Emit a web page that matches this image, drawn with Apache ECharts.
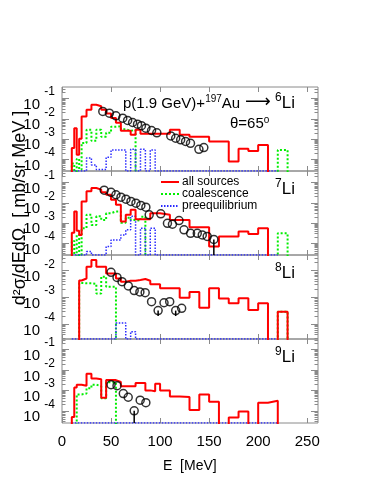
<!DOCTYPE html>
<html><head><meta charset="utf-8">
<script src="https://cdn.jsdelivr.net/npm/echarts@6/dist/echarts.min.js"></script>
<style>html,body{margin:0;padding:0;background:#fff}#c{width:382px;height:494px}</style>
</head><body><div id="c"></div><script>
// ---------- data ----------
const xTicks = [0, 50, 100, 150, 200, 250];
const yMajorTicks = [1e-1, 1e-2, 1e-3, 1e-4];
const panelNames = ['6', '7', '8', '9'];
// histogram bin edges (MeV)
const energyEdges = [10,12.5,15,17.5,20,25,30,35,40,45,50,55,60,65,70,75,80,85,90,95,100,110,120,130,140,150,160,170,180,190,200,210,220,230];

// 6Li
const li6All  = [3.5e-4,3.4e-3,1.6e-4,1e-3,1.3e-2,2.8e-2,5.0e-2,4.2e-2,2.8e-2,1.8e-2,1.1e-2,6.3e-3,2.5e-3,2.5e-3,1.6e-3,2.8e-3,1.8e-3,1.8e-3,1.8e-3,1.8e-3,1.8e-3,2.8e-3,1.6e-3,1.26e-3,1.26e-3,7.4e-4,7.4e-4,7.4e-5,3.2e-4,2.5e-4,5e-4,0,0];
const li6Coal = [6e-5,0,1e-4,3e-5,6.3e-4,2.8e-3,8e-4,2.8e-3,1.26e-3,2e-3,4e-3,4.2e-3,3e-3,2.5e-3,2.8e-3,0,0,0,0,0,0,0,0,0,0,0,0,0,0,0,0,0,2.8e-4];
const li6Pre  = [0,0,0,0,0,1.1e-4,5e-5,3e-5,3e-5,1.2e-4,2.8e-4,2.8e-4,2.8e-4,0,3e-4,0,3e-4,0,2.8e-4,0,0,0,0,0,0,0,0,0,0,0,0,0];
const li6ExpE = [41.6,48.3,55,61.9,66.9,72,77,81,85.5,91.3,96.7,110.9,115.9,121,126,131,139.6,144.6];
const li6ExpV = [2.3e-2,1.9e-2,1.4e-2,1.07e-2,8.3e-3,6.5e-3,5.4e-3,4.5e-3,3.4e-3,2.6e-3,2.0e-3,1.4e-3,1.07e-3,8.9e-4,7.4e-4,6.0e-4,3.0e-4,3.7e-4];

// 7Li
const li7All  = [3.2e-4,3.7e-3,4e-4,2.5e-4,1.17e-2,3.7e-2,5.4e-2,4.5e-2,3.3e-2,2.5e-2,1.4e-2,7.9e-3,1.17e-3,2.5e-3,4.5e-3,1.5e-3,1.5e-3,1.5e-3,3e-3,3e-3,2.5e-3,1.4e-3,1.4e-3,6e-4,6e-4,6.6e-5,2.1e-4,2.1e-4,3.7e-4,2.8e-4,5.4e-4,0,0];
const li7Coal = [1.26e-4,0,2.5e-4,0,5.4e-4,2.5e-3,7.9e-4,2.1e-3,1.4e-3,3e-3,3.7e-3,3.7e-3,1e-3,1.8e-3,1.4e-3,1.26e-3,2e-3,0,0,0,0,0,0,0,0,0,0,0,0,0,0,0,3e-4];
const li7Pre  = [0,0,0,0,0,3.7e-5,0,0,0,6.6e-5,1.4e-4,1.4e-4,2.5e-4,4.5e-4,2.1e-3,0,5.4e-4,0,5.4e-4,0,0,0,0,0,0,0,0,0,0,0,0,0];
const li7ExpE = [43,50,55,60.1,65.2,70.3,75.4,80.4,85.5,88.9,100.7,107.5,112.6,119.3,124.4,131.1,137.9,143,148,154.8];
const li7ExpV = [4.2e-2,3.3e-2,2.5e-2,1.9e-2,1.5e-2,1.17e-2,9.5e-3,7.4e-3,6e-3,2.5e-3,2.8e-3,9.5e-4,8.5e-4,1.3e-3,4.5e-4,3e-4,3e-4,2.5e-4,2.1e-4,1.5e-4];
const li7Stem = [[154.8, 1e-9, 1.5e-4]];

// 8Li
const li8All  = [0,0,0,4.3e-3,5.1e-3,1.4e-2,2.5e-2,1.4e-2,1.4e-2,7.9e-3,7.9e-3,5.1e-3,3.9e-3,4.2e-3,4.2e-3,4.5e-3,4.9e-3,4.2e-3,3.1e-3,3.1e-3,2.2e-3,2.2e-3,9.8e-4,1.6e-3,4.1e-4,2.2e-3,9.1e-4,6e-4,9.3e-4,3.4e-4,6e-4,0,2.9e-4];
const li8Coal = [0,0,0,3.5e-3,3.4e-3,3.4e-3,3.2e-3,1.4e-3,6e-3,2.5e-3,2.5e-3,0,0,0,0,0,0,0,0,0,0,0,0,0,0,0,0,0,0,0,0,0,2.9e-4];
const li8Pre  = [0,0,0,0,0,0,0,0,0,0,0,1.1e-4,1.1e-4,0,5.2e-5,0,0,0,0,0,0,0,0,0,0,0,0,0,0,0,0,0];
const li8ExpE = [50,56.1,61.2,67.6,73.6,79.4,84.8,91.3,98,104,109.8,115.9,122];
const li8ExpV = [8.7e-3,5.6e-3,3.9e-3,2.7e-3,1.8e-3,1.6e-3,1.5e-3,6.9e-4,3.2e-4,6.3e-4,6.9e-4,3.2e-4,3.9e-4];
const li8Stem = [[98, 2e-4, 3.2e-4],[115.9, 2e-4, 3.2e-4]];

// 9Li
const li9All  = [5e-5,1.4e-3,1.9e-3,1.9e-3,1.7e-3,6.6e-3,3.8e-3,3.5e-3,4.4e-4,3.2e-3,3.2e-3,2.6e-3,1.6e-3,1.6e-3,1.6e-3,2.3e-3,2.3e-3,1e-3,9e-4,2.1e-3,1e-3,5e-4,4.7e-4,1.1e-4,6.3e-4,2.8e-4,0,4.7e-5,9.1e-5,0,2.5e-4,3.1e-4,0];
const li9Coal = [0,0,6.3e-4,6.3e-4,7e-4,1.26e-3,1.9e-3,1.6e-3,4.1e-4,2.5e-3,2.5e-3,0,0,0,0,0,0,0,0,0,0,0,0,0,0,0,0,0,0,0,0,0,0];
const li9Pre  = [0,0,0,0,0,0,0,0,0,0,0,0,0,0,0,0,0,0,0,0,0,0,0,0,0,0,0,0,0,0,0,0];
const li9ExpE = [50,56.1,62.5,67.5,73.6,79.7,85.5];
const li9ExpV = [1.9e-3,1.7e-3,7e-4,4.6e-4,1e-4,3.3e-4,2.5e-4];
const li9Stem = [[73.6, 1e-9, 1e-4]];

// ---------- layout ----------
const FONT = 'Liberation Sans';
const GREY = '#8a8a8a';
const TINY = 1e-9;
const panels = [
  {top: 87,  lo: -4.6,  hi: -0.42, all: li6All, coal: li6Coal, pre: li6Pre, ex: li6ExpE, ey: li6ExpV, stems: [],      majors: yMajorTicks},
  {top: 171, lo: -4.6,  hi: -0.42, all: li7All, coal: li7Coal, pre: li7Pre, ex: li7ExpE, ey: li7ExpV, stems: li7Stem, majors: yMajorTicks},
  {top: 255, lo: -4.56, hi: -1.41, all: li8All, coal: li8Coal, pre: li8Pre, ex: li8ExpE, ey: li8ExpV, stems: li8Stem, majors: [1e-2,1e-3,1e-4]},
  {top: 339, lo: -4.6,  hi: -0.48, all: li9All, coal: li9Coal, pre: li9Pre, ex: li9ExpE, ey: li9ExpV, stems: li9Stem, majors: yMajorTicks}
];

function minorTicks(lo, hi) {
  const out = [];
  for (let d = Math.floor(lo); d <= Math.ceil(hi); d++) {
    for (let k = 2; k <= 9; k++) {
      const v = k * Math.pow(10, d);
      const l = Math.log10(v);
      if (l > lo && l < hi) out.push(v);
    }
  }
  return out;
}
function histPoints(vals, zeroVal) {
  const pts = [[energyEdges[0], zeroVal]];
  for (let i = 0; i < vals.length; i++) pts.push([energyEdges[i], vals[i] > 0 ? vals[i] : zeroVal]);
  pts.push([energyEdges[vals.length], vals[vals.length - 1] > 0 ? vals[vals.length - 1] : zeroVal]);
  pts.push([energyEdges[vals.length], zeroVal]);
  return pts;
}

const grid = [], xAxis = [], yAxis = [], series = [];
panels.forEach((p, i) => {
  const ymin = Math.pow(10, p.lo), ymax = Math.pow(10, p.hi);
  grid.push({left: 62, width: 256, top: p.top, height: 84, show: true, borderColor: GREY, borderWidth: 1, backgroundColor: 'transparent'});
  ['bottom', 'top'].forEach((pos, k) => {
    xAxis.push({
      gridIndex: i, type: 'value', min: 0, max: 261, position: pos,
      axisLine: {show: false}, splitLine: {show: false},
      axisTick: {show: true, inside: true, length: 5, customValues: xTicks, lineStyle: {color: GREY}},
      axisLabel: {show: i === 3 && k === 0, customValues: xTicks, margin: 11, fontSize: 15, color: '#000', fontFamily: FONT,
        showMinLabel: true, showMaxLabel: true, hideOverlap: false}
    });
  });
  ['left', 'right'].forEach((pos) => {
    [true, false].forEach((major) => {
      const isLeft = pos === 'left';
      yAxis.push({
        gridIndex: i, type: 'log', logBase: 10, min: ymin, max: ymax, position: pos,
        axisLine: {show: false}, splitLine: {show: false},
        axisTick: {show: true, inside: true, length: major ? 7 : 3.5, customValues: major ? p.majors : minorTicks(p.lo, p.hi), lineStyle: {color: GREY}},
        // major-left axis carries the "10" bases, minor-left axis carries the exponents
        axisLabel: major ? {
          show: isLeft, customValues: p.majors, margin: 22, align: 'right', verticalAlign: 'top',
          showMinLabel: true, showMaxLabel: true, hideOverlap: false,
          formatter: () => '10', fontSize: 15, lineHeight: 13, fontFamily: FONT, color: '#000'
        } : {
          show: isLeft, customValues: p.majors, margin: 7, align: 'right', verticalAlign: 'bottom',
          showMinLabel: true, showMaxLabel: true, hideOverlap: false,
          formatter: (v) => String(Math.round(Math.log10(v))), fontSize: 12, lineHeight: 13, fontFamily: FONT, color: '#000'
        }
      });
    });
  });
  const xi = 2 * i, yi = 4 * i;
  series.push({name: 'coalescence', type: 'line', xAxisIndex: xi, yAxisIndex: yi, step: 'end', symbol: 'none', animation: false,
    data: histPoints(p.coal, TINY), lineStyle: {color: '#00ee00', width: 2, type: [2, 2]}, itemStyle: {color: '#00ee00'}, z: 3});
  series.push({name: 'preequilibrium', type: 'line', xAxisIndex: xi, yAxisIndex: yi, step: 'end', symbol: 'none', animation: false,
    data: histPoints(p.pre, ymin), lineStyle: {color: '#2a2aff', width: 1.5, type: [1.5, 1.5]}, itemStyle: {color: '#2a2aff'}, z: 3});
  series.push({name: 'all sources', type: 'line', xAxisIndex: xi, yAxisIndex: yi, step: 'end', symbol: 'none', animation: false,
    data: histPoints(p.all, TINY), lineStyle: {color: '#ff0000', width: 2}, itemStyle: {color: '#ff0000'}, z: 4});
  series.push({type: 'custom', xAxisIndex: xi, yAxisIndex: yi, animation: false, z: 5,
    data: p.stems,
    renderItem: (params, api) => {
      const a = api.coord([api.value(0), api.value(1)]);
      const b = api.coord([api.value(0), api.value(2)]);
      const cs = params.coordSys;
      const y1 = Math.min(a[1], cs.y + cs.height);
      return {type: 'line', shape: {x1: a[0], y1: y1, x2: b[0], y2: b[1]}, style: {stroke: '#000', lineWidth: 1.5}};
    }});
  series.push({type: 'scatter', xAxisIndex: xi, yAxisIndex: yi, animation: false, z: 6,
    data: p.ex.map((e, j) => [e, p.ey[j]]), symbol: 'circle', symbolSize: 8,
    itemStyle: {color: 'rgba(255,255,255,0)', borderColor: '#000', borderWidth: 1.5}});
});

const chart = echarts.init(document.getElementById('c'), null, {renderer: 'canvas'});
const supRich = {
  a: {fontSize: 15, fontFamily: FONT, color: '#000', lineHeight: 20},
  s: {fontSize: 10, fontFamily: FONT, color: '#000', verticalAlign: 'top', lineHeight: 20},
  L: {fontSize: 17, fontFamily: FONT, color: '#000', lineHeight: 22},
  S: {fontSize: 12, fontFamily: FONT, color: '#000', verticalAlign: 'top', lineHeight: 22},
  o: {fontSize: 10, fontFamily: FONT, color: '#000', verticalAlign: 'top', lineHeight: 18},
  t: {fontSize: 15, fontFamily: FONT, color: '#000', lineHeight: 18}
};
const graphic = [
  {type: 'text', left: 123, top: 94, style: {text: '{a|p(1.9 GeV)+}{s|197}{a|Au}', rich: supRich}},
  {type: 'text', left: 245, top: 93, style: {text: '⟶', font: '18px DejaVu Sans', fill: '#000'}},
  {type: 'text', left: 230, top: 115, style: {text: '{t|θ=65}{o|o}', rich: supRich}},
  {type: 'text', x: 20, y: 208, rotation: Math.PI / 2,
   style: {text: 'd²σ/dEdΩ  [ mb/sr MeV ]', font: '18px ' + FONT, fill: '#000', align: 'center', verticalAlign: 'middle'}},
  {type: 'text', left: 163, top: 459, style: {text: 'E  [MeV]', font: '14px ' + FONT, fill: '#000'}}
];
const labelTops = [92, 178, 262, 346];
panels.forEach((p, i) => {
  graphic.push({type: 'text', left: 275, top: labelTops[i], style: {text: '{S|' + panelNames[i] + '}{L|Li}', rich: supRich}});
});

chart.setOption({
  animation: false,
  backgroundColor: '#fff',
  textStyle: {fontFamily: FONT},
  grid: grid, xAxis: xAxis, yAxis: yAxis, series: series,
  legend: {
    left: 160, top: 176, orient: 'vertical', itemWidth: 18, itemHeight: 10, itemGap: 0, padding: 0,
    data: ['all sources', 'coalescence', 'preequilibrium'],
    itemStyle: {opacity: 0},
    textStyle: {fontSize: 12, color: '#000', fontFamily: FONT, lineHeight: 11, padding: [0, 0, 0, -2]},
    selectedMode: false
  },
  graphic: graphic
});
</script></body></html>
